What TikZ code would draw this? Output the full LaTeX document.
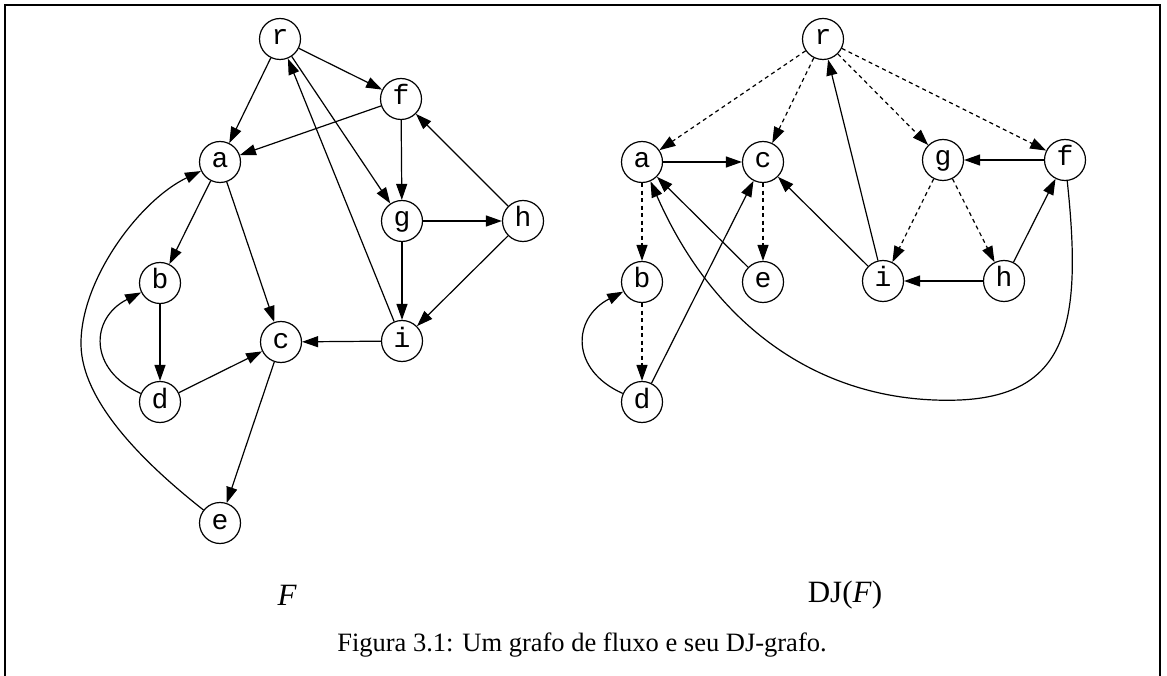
\documentclass[tikz,border=0pt]{standalone}
\usepackage{fontspec}
\setmainfont{Liberation Serif}
\newfontfamily\nodefont{Liberation Mono}
\usetikzlibrary{arrows.meta}
\begin{document}
\begin{tikzpicture}[x=1pt,y=-1pt,
  vtx/.style={circle,draw,line width=1.2pt,minimum size=41pt,inner sep=0pt,
    text height=12pt,text depth=0pt,font=\nodefont\fontsize{28}{28}\selectfont},
  edge/.style={line width=1.2pt,-{Triangle[length=16pt,width=11pt]}},
  dedge/.style={edge,dash pattern=on 4pt off 3.5pt},
]
\useasboundingbox (0,0) rectangle (1167,676);
\draw[line width=1.6pt] (5,676) -- (5,5) -- (1160,5) -- (1160,676);

% ---------- left graph F ----------
\node[vtx] (Lr) at (280,39)  {r};
\node[vtx] (Lf) at (401,99)  {f};
\node[vtx] (La) at (220,162) {a};
\node[vtx] (Lg) at (402,221) {g};
\node[vtx] (Lh) at (523,221) {h};
\node[vtx] (Lb) at (160,283) {b};
\node[vtx] (Lc) at (281,342) {c};
\node[vtx] (Li) at (402,341) {i};
\node[vtx] (Ld) at (160,402) {d};
\node[vtx] (Le) at (220,523) {e};
\coordinate (Lea) at (81,345);

\draw[edge] (Lr) -- (La);
\draw[edge] (Lr) -- (Lf);
\draw[edge] (Lr) -- (Lg);
\draw[edge] (Li) -- (Lr);
\draw[edge] (Lf) -- (La);
\draw[edge] (Lf) -- (Lg);
\draw[edge] (Lh) -- (Lf);
\draw[edge] (Lg) -- (Lh);
\draw[edge] (Lg) -- (Li);
\draw[edge] (Lh) -- (Li);
\draw[edge] (Li) -- (Lc);
\draw[edge] (La) -- (Lb);
\draw[edge] (La) -- (Lc);
\draw[edge] (Lb) -- (Ld);
\draw[edge] (Ld) .. controls (88,370) and (90,318) .. (Lb);
\draw[edge] (Ld) -- (Lc);
\draw[edge] (Lc) -- (Le);
\draw[edge] (Le) .. controls (140,460) and (82,400) .. (Lea)
                 .. controls (80,280) and (140,200) .. (La);

% ---------- right graph DJ(F) ----------
\node[vtx] (Rr) at (823,39)  {r};
\node[vtx] (Ra) at (642,162) {a};
\node[vtx] (Rc) at (763,162) {c};
\node[vtx] (Rg) at (943,160) {g};
\node[vtx] (Rf) at (1065,160) {f};
\node[vtx] (Rb) at (642,282) {b};
\node[vtx] (Re) at (763,282) {e};
\node[vtx] (Ri) at (883,281) {i};
\node[vtx] (Rh) at (1004,281) {h};
\node[vtx] (Rd) at (642,402) {d};
\coordinate (Rfa) at (960,400);

\draw[dedge] (Rr) -- (Ra);
\draw[dedge] (Rr) -- (Rc);
\draw[dedge] (Rr) -- (Rg);
\draw[dedge] (Rr) -- (Rf);
\draw[dedge] (Ra) -- (Rb);
\draw[dedge] (Rb) -- (Rd);
\draw[dedge] (Rc) -- (Re);
\draw[dedge] (Rg) -- (Ri);
\draw[dedge] (Rg) -- (Rh);

\draw[edge] (Ra) -- (Rc);
\draw[edge] (Re) -- (Ra);
\draw[edge] (Rd) -- (Rc);
\draw[edge] (Ri) -- (Rc);
\draw[edge] (Ri) -- (Rr);
\draw[edge] (Rf) -- (Rg);
\draw[edge] (Rh) -- (Rf);
\draw[edge] (Rh) -- (Ri);
\draw[edge] (Rd) .. controls (570,370) and (572,318) .. (Rb);
\draw[edge] (Rf) .. controls (1082,320) and (1070,395) .. (Rfa)
                 .. controls (830,405) and (718,335) .. (Ra);

% ---------- labels ----------
\node (lblF) at (287,595) {\fontsize{31}{36}\selectfont\itshape F};
\node (lblDJ) at (845,595) {\fontsize{31}{36}\selectfont DJ(\textit{F})};
\node (cap) at (582,645) {\fontsize{26.5}{30}\selectfont Figura 3.1: Um grafo de fluxo e seu DJ-grafo.};
\end{tikzpicture}
\end{document}
